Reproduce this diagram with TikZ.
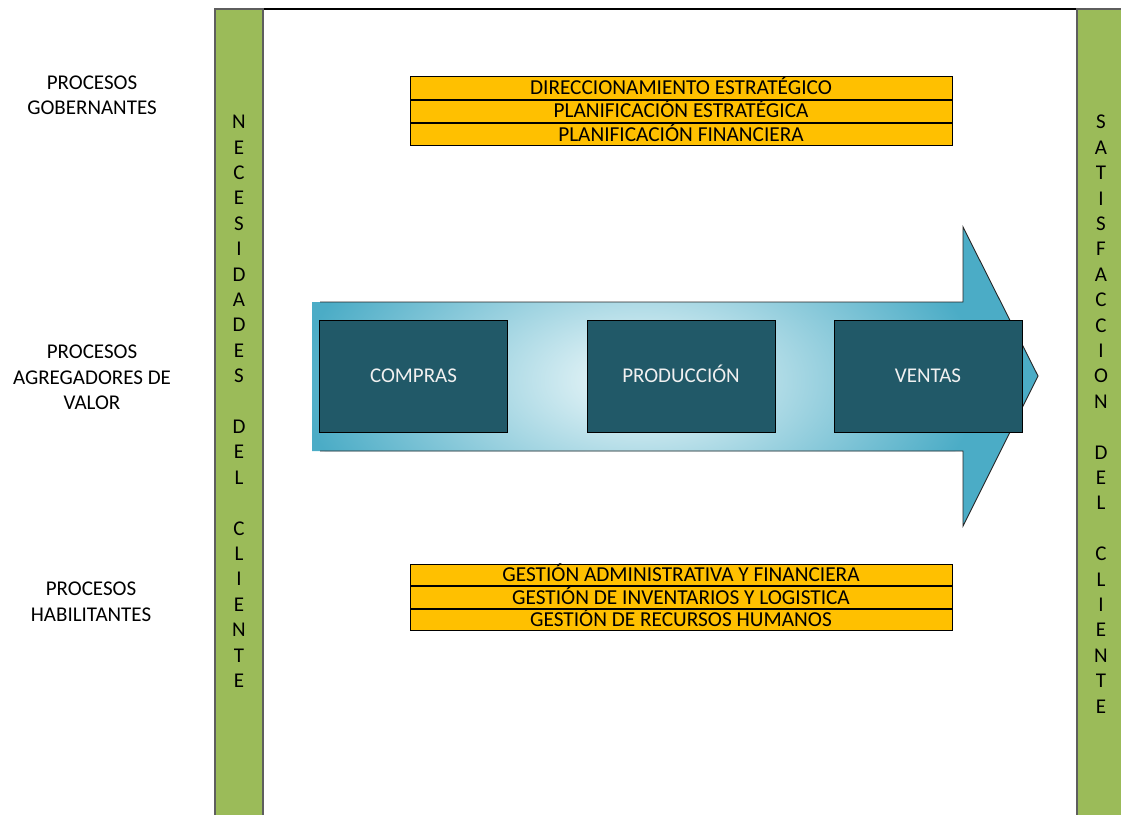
\documentclass[tikz,border=0pt]{standalone}
\usepackage{fontspec}
\setmainfont{Carlito}
\definecolor{bargreen}{HTML}{9BBB59}
\definecolor{barline}{HTML}{5E5E5E}
\definecolor{procorange}{HTML}{FFC000}
\definecolor{stagefill}{HTML}{215968}
\definecolor{glowout}{HTML}{4BACC6}
\definecolor{glowin}{HTML}{D8EEF3}
\pgfdeclareradialshading{glow}{\pgfpoint{0bp}{0bp}}{color(0bp)=(glowin); color(4bp)=(glowin); color(25bp)=(glowout); color(50bp)=(glowout)}
\begin{document}
\begin{tikzpicture}[x=1pt,y=-1pt,
  bar/.style={draw=barline, fill=bargreen, line width=1.3pt},
  barletters/.style={anchor=north, inner sep=0pt, align=center,
    font=\fontsize{21}{25.4}\selectfont},
  sidelabel/.style={align=center, inner sep=0pt,
    font=\fontsize{21}{25.5}\selectfont},
  procrow/.style={draw=black, line width=0.8pt, fill=procorange,
    minimum width=542pt, minimum height=22.3pt, inner sep=0pt,
    text height=13.6pt, text depth=0pt,
    font=\fontsize{21.3}{22}\selectfont},
  stage/.style={draw=black, line width=0.9pt, fill=stagefill,
    minimum width=188pt, minimum height=112pt, inner sep=0pt,
    text height=13.5pt, text depth=0pt,
    text=white!94!black, font=\fontsize{21}{24}\selectfont},
  arrowline/.style={draw=black!85, line width=0.9pt}
]
\useasboundingbox (0,0) rectangle (1121,814);

% outer frame top edge and the two customer bars
\draw[line width=1.2pt] (215,9) -- (1077,9);
\path[bar] (215,9) rectangle (263,830);
\path[bar] (1077,9) rectangle (1135,830);

\node[barletters] (necesidades) at (239,115)
  {N\\E\\C\\E\\S\\I\\D\\A\\D\\E\\S\\~\\D\\E\\L\\~\\C\\L\\I\\E\\N\\T\\E};
\node[barletters] (satisfaccion) at (1101,115)
  {S\\A\\T\\I\\S\\F\\A\\C\\C\\I\\O\\N\\~\\D\\E\\L\\~\\C\\L\\I\\E\\N\\T\\E};

% row labels
\node[sidelabel] (gob) at (92,95.5) {PROCESOS\\GOBERNANTES};
\node[sidelabel] (agr) at (92,377.5) {PROCESOS\\AGREGADORES DE\\VALOR};
\node[sidelabel] (hab) at (91,601.5) {PROCESOS\\HABILITANTES};

% governing processes
\node[procrow] (dir) at (681,88) {DIRECCIONAMIENTO ESTRATÉGICO};
\node[procrow, anchor=north] (plan) at (dir.south) {PLANIFICACIÓN ESTRATÉGICA};
\node[procrow, anchor=north] (fin) at (plan.south) {PLANIFICACIÓN FINANCIERA};

% enabling processes
\node[procrow, minimum height=21.7pt] (adm) at (681,575) {GESTIÓN ADMINISTRATIVA Y FINANCIERA};
\node[procrow, minimum height=21.7pt, anchor=north] (inv) at (adm.south) {GESTIÓN DE INVENTARIOS Y LOGISTICA};
\node[procrow, minimum height=21.7pt, anchor=north] (rrhh) at (inv.south) {GESTIÓN DE RECURSOS HUMANOS};

% value chain arrow
\begin{scope}
  \clip (312,302) -- (963,302) -- (963,227) -- (1038,376) -- (963,526)
        -- (963,451) -- (312,451) -- cycle;
  \fill[glowout] (300,220) rectangle (1050,530);
  \shade[shading=glow] (640,380) ellipse [x radius=340, y radius=190];
\end{scope}
\draw[arrowline] (320,302) -- (963,302) -- (963,227) -- (1038,376)
  -- (963,526) -- (963,451) -- (320,451);

\node[stage] (compras) at (413.5,376) {COMPRAS};
\node[stage] (produccion) at (681,376) {PRODUCCIÓN};
\node[stage] (ventas) at (928,376) {VENTAS};
\end{tikzpicture}
\end{document}
